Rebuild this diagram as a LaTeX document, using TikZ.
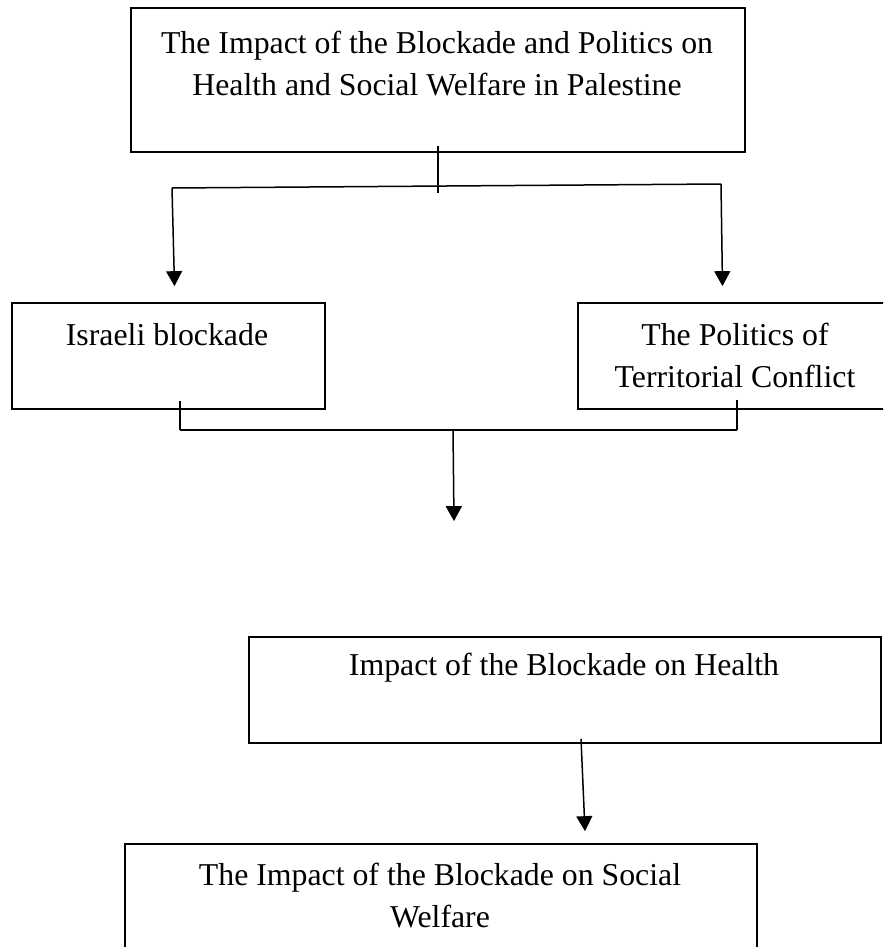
\documentclass[tikz,border=0pt]{standalone}
\usepackage{fontspec}
\setmainfont{Liberation Serif}
\usetikzlibrary{arrows.meta,positioning}
\tikzset{
  box/.style={draw, line width=1.7pt, inner sep=0pt},
  txt/.style={align=center, inner sep=0pt, font=\fontsize{31.8}{42}\selectfont},
  link/.style={line width=1.5pt},
  arr/.style={link, -{Triangle[length=15pt,width=16pt]}}
}

\begin{document}
\begin{tikzpicture}[x=1pt, y=-1pt]
        \useasboundingbox (0,0) rectangle (883,947);
        \clip (0,0) rectangle (883,947);
        \node[box, minimum width=614pt, minimum height=144pt] (top) at (438,80) {};
        \node[txt] (toptxt) at (437,64) {The Impact of the Blockade and Politics on\\Health and Social Welfare in Palestine};
        \node[box, minimum width=313pt, minimum height=106pt] (block) at (168.5,356) {};
        \node[txt] (blocktxt) at (167,335) {Israeli blockade};
        \node[box, minimum width=314pt, minimum height=106pt] (politics) at (735,356) {};
        \node[txt] (politicstxt) at (735,355) {The Politics of\\Territorial Conflict};
        \node[box, minimum width=632pt, minimum height=106pt] (health) at (565,690) {};
        \node[txt] (healthtxt) at (564,668) {Impact of the Blockade on Health};
        \node[box, minimum width=632pt, minimum height=116pt] (welfare) at (441,902) {};
        \node[txt] (welfaretxt) at (440,896) {The Impact of the Blockade on Social\\Welfare};
        \coordinate (ltop) at (172,188);
        \coordinate (rtop) at (721,184);
        \coordinate (lbot) at (180,430);
        \coordinate (rbot) at (737,430);
        \coordinate (join) at (453,430);
        \draw[link] (top.south) ++(0,-7) -- ++(0,47);
        \draw[link] (ltop) -- (rtop);
        \draw[arr] (ltop) -- ([xshift=6pt, yshift=16pt]block.north);
        \draw[arr] (rtop) -- ([xshift=-12.5pt, yshift=16pt]politics.north);
        \draw[link] (block.south) ++(11.5,-9) -- (lbot);
        \draw[link] (politics.south) ++(2,-10) -- (rbot);
        \draw[link] (lbot) -- (rbot);
        \draw[arr] (join) -- ([xshift=-111pt, yshift=115pt]health.north);
        \draw[arr] (health.south) ++(16,-5) -- ([xshift=144pt, yshift=12pt]welfare.north);
      \end{tikzpicture}
\end{document}
